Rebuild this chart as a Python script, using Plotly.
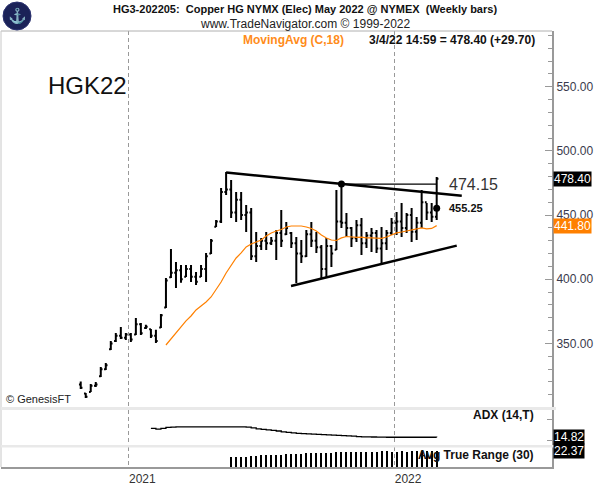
import datetime as dt
import plotly.graph_objects as go

# ---------------- data ----------------
first_week = dt.date(2020, 10, 23)
week_dates = [first_week + dt.timedelta(weeks=k) for k in range(72)]

opens = [318, 311, 312.2, 317, 324.5, 330, 345.5, 352, 356, 354.5,
         357, 357, 365, 362, 361, 356, 362.5, 378, 401.5, 405,
         407, 402, 408, 402, 402, 408, 420, 441, 445, 468,
         470, 452, 462, 450, 452, 418, 426, 430, 428, 430,
         436, 435, 436, 428, 420, 418, 435, 430, 425, 408,
         426, 423, 445, 444, 440, 432, 442, 428, 434, 436,
         424, 428, 436, 444, 445, 440, 450, 437, 444, 460,
         452, 448.7]
highs = [320.3, 311.4, 318.5, 320.0, 331.7, 334.8, 351.9, 358.2, 362.9, 358.2,
         358.2, 369.8, 366.0, 364.5, 361.3, 360.6, 373.0, 401.0, 423.6, 413.4,
         411.1, 411.1, 411.1, 405.7, 411.1, 420.4, 431.3, 446.2, 471.1, 483.6,
         477.3, 468.0, 468.0, 457.9, 455.5, 436.8, 432.2, 436.8, 432.9, 438.4,
         454.0, 444.6, 436.8, 432.9, 430.6, 438.4, 444.6, 436.8, 426.7, 432.2,
         426.7, 469.5, 475.0, 451.6, 440.7, 446.2, 447.7, 436.8, 440.0, 438.4,
         440.7, 438.4, 447.7, 452.4, 459.4, 451.6, 455.5, 448.5, 469.5, 459.4,
         459.4, 479.7]
lows = [314.6, 307.6, 312.2, 316.1, 323.9, 329.3, 344.9, 351.2, 353.5, 352.7,
        351.2, 356.6, 356.6, 361.3, 354.3, 350.4, 362.1, 377.6, 401.0, 393.2,
        397.2, 401.8, 397.9, 395.6, 401.8, 397.9, 419.6, 440.7, 443.8, 465.7,
        447.7, 444.6, 446.2, 436.8, 415.0, 413.5, 422.8, 422.8, 426.7, 415.0,
        425.2, 434.5, 424.4, 397.1, 412.7, 417.4, 425.2, 420.5, 401.0, 401.8,
        409.6, 422.8, 440.0, 432.9, 425.2, 429.0, 418.9, 424.4, 421.3, 420.5,
        412.7, 422.8, 434.5, 434.5, 432.9, 436.1, 429.0, 430.6, 440.0, 446.2,
        444.6, 446.2]
closes = [315.5, 308.5, 317, 318, 330, 333, 350, 356, 354.5, 357,
          353, 365, 358, 363, 356, 352, 372, 399, 405, 407,
          400, 408, 402, 398, 408, 418, 430, 445, 468, 470,
          452, 462, 450, 452, 418, 426, 430, 428, 430, 436,
          430, 440, 428, 420, 418, 435, 430, 425, 408, 426,
          420, 445, 444, 440, 432, 442, 428, 434, 436, 424,
          428, 436, 444, 445, 440, 450, 437, 444, 460, 452,
          448.7, 478.4]

# 18-week moving average of the close, as drawn (starts at week 17)
ma_start = 17
ma_values = [348.8, 353.5, 358.2, 362.9, 367.6, 371.4, 376.1, 379.2, 382.3, 386.2,
             391.7, 397.9, 404.9, 411.1, 416.6, 420.5, 425.2, 427.5, 429.0, 430.6,
             433.7, 436.1, 437.6, 438.8, 440.7, 441.5, 441.5, 441.5, 440.7, 439.6,
             437.6, 434.5, 432.2, 430.6, 430.2, 432.2, 433.3, 432.9, 432.6, 432.9,
             432.2, 432.2, 431.8, 431.8, 432.9, 434.5, 436.1, 436.8, 437.6, 438.4,
             439.2, 440.0, 439.2, 439.6, 441.8]

# ADX (14,T) from week 14
adx_start = 14
adx_values = [23.4, 22.7, 23.4, 24.2, 24.6, 24.7, 24.7, 24.7, 24.7, 24.7,
              24.7, 24.7, 24.7, 24.7, 24.7, 24.7, 24.7, 24.7, 24.7, 24.6,
              23.8, 22.8, 22.3, 21.9, 21.4, 20.8, 20.0, 19.6, 19.1, 18.6,
              18.3, 18.0, 17.9, 17.7, 17.4, 17.1, 16.9, 16.6, 16.4, 16.2,
              15.9, 15.5, 15.3, 15.2, 15.1, 15.0, 14.9, 14.85, 14.85, 14.85,
              14.85, 14.85, 14.85, 14.85, 14.85, 14.85, 14.85, 14.82]

# Avg True Range (30) from week 30
atr_start = 30
atr_values = [18.2, 18.3, 18.5, 18.6, 19.0, 19.3, 19.4, 19.6, 19.7, 19.8,
              20.0, 20.1, 20.2, 20.5, 20.6, 20.7, 20.9, 20.9, 21.1, 21.2,
              21.2, 21.5, 21.7, 21.7, 21.7, 21.8, 21.9, 21.9, 21.9, 21.9,
              22.0, 22.0, 21.9, 21.9, 22.0, 21.9, 22.0, 22.0, 22.2, 22.2,
              22.1, 22.37]

# drawn trendlines / marks (week index, price)
upper_line_x = [29, 76]
upper_line_y = [483.2, 465.0]
lower_line_x = [41.95, 75.0]
lower_line_y = [394.8, 426.2]
level_x = [52, 71]
level_price = 474.15
dot_x = [52, 71]
dot_y = [474.15, 455.25]
label_x = 73.06

last_close = 478.40
last_ma = 441.80
last_adx = 14.82
last_atr = 22.37

# ---------------- helpers ----------------
idx = list(range(len(week_dates)))
year_ticks, year_text = [], []
for k in range(1, len(week_dates)):
    if week_dates[k].year != week_dates[k - 1].year:
        year_ticks.append(k - 0.5)
        year_text.append(str(week_dates[k].year))

FONT = "Liberation Sans, Arial, sans-serif"
ORANGE = "#FF8000"
PL, PR, PT, PB = 1, 552, 31, 467


def px(x):
    return (x - PL) / (PR - PL)


def py(y):
    return (PB - y) / (PB - PT)


fig = go.Figure()

fig.add_trace(go.Ohlc(
    x=idx, open=opens, high=highs, low=lows, close=closes,
    increasing=dict(line=dict(color="black", width=2)),
    decreasing=dict(line=dict(color="black", width=2)),
    tickwidth=0.35, xaxis="x", yaxis="y", showlegend=False, hoverinfo="skip"))

fig.add_trace(go.Scatter(
    x=idx[ma_start:ma_start + len(ma_values)], y=ma_values, mode="lines",
    line=dict(color=ORANGE, width=1.2), xaxis="x", yaxis="y",
    showlegend=False, hoverinfo="skip"))

fig.add_trace(go.Scatter(x=upper_line_x, y=upper_line_y, mode="lines",
                         line=dict(color="black", width=2.5), xaxis="x", yaxis="y",
                         showlegend=False, hoverinfo="skip"))
fig.add_trace(go.Scatter(x=lower_line_x, y=lower_line_y, mode="lines",
                         line=dict(color="black", width=2.5), xaxis="x", yaxis="y",
                         showlegend=False, hoverinfo="skip"))
fig.add_trace(go.Scatter(x=level_x, y=[level_price, level_price], mode="lines",
                         line=dict(color="black", width=1.3), xaxis="x", yaxis="y",
                         showlegend=False, hoverinfo="skip"))
fig.add_trace(go.Scatter(x=dot_x, y=dot_y, mode="markers",
                         marker=dict(color="black", size=7), xaxis="x", yaxis="y",
                         showlegend=False, hoverinfo="skip"))

fig.add_trace(go.Scatter(
    x=idx[adx_start:adx_start + len(adx_values)], y=adx_values, mode="lines",
    line=dict(color="black", width=1.3, shape="hv"), xaxis="x2", yaxis="y2",
    showlegend=False, hoverinfo="skip"))

fig.add_trace(go.Bar(
    x=idx[atr_start:atr_start + len(atr_values)], y=atr_values, width=0.2,
    marker=dict(color="black", line=dict(width=0)), xaxis="x3", yaxis="y3",
    showlegend=False, hoverinfo="skip"))

xcommon = dict(range=[-15.9, 94.0], tickvals=year_ticks, ticktext=year_text,
               showgrid=True, griddash="4px,3px", gridcolor="#999999", gridwidth=1,
               zeroline=False, ticks="", fixedrange=True)

fig.update_layout(
    width=607, height=488, autosize=False,
    margin=dict(l=PL, r=607 - PR, t=PT, b=488 - PB),
    paper_bgcolor="white", plot_bgcolor="white",
    font=dict(family=FONT, color="#222"),
    showlegend=False, bargap=0,
    xaxis=dict(**xcommon, anchor="y", showticklabels=False, rangeslider=dict(visible=False)),
    xaxis2=dict(**xcommon, anchor="y2", matches="x", showticklabels=False),
    xaxis3=dict(**xcommon, anchor="y3", matches="x", showticklabels=True,
                tickfont=dict(size=12, color="#333", family=FONT), ticklabelshift=14,
                showline=True, linecolor="#999999", linewidth=2),
    yaxis=dict(domain=[py(407), 1], range=[300.5, 593.4], side="right", anchor="x",
               showline=True, linecolor="#999999", linewidth=2,
               ticks="inside", ticklen=7, tickcolor="#999999", tickwidth=1,
               tick0=0, dtick=50, tickformat=".2f",
               tickfont=dict(size=12, color="#3a3a4c", family=FONT),
               minor=dict(dtick=10, ticks="inside", ticklen=4, tickcolor="#999999"),
               showgrid=False, zeroline=False, fixedrange=True),
    yaxis2=dict(domain=[py(445), py(410)], range=[7.49, 40.82], side="right", anchor="x2",
                showline=True, linecolor="#999999", linewidth=2,
                ticks="inside", ticklen=5, tickcolor="#999999", tickvals=[12, 32],
                showticklabels=False, showgrid=False, zeroline=False, fixedrange=True),
    yaxis3=dict(domain=[0, py(447)], range=[12, 24.85], side="right", anchor="x3",
                showline=True, linecolor="#999999", linewidth=2, ticks="",
                showticklabels=False, showgrid=False, zeroline=False, fixedrange=True),
)

shapes = [
    # frame top and left
    dict(type="line", xref="paper", yref="paper", x0=0, x1=1, y0=1, y1=1,
         line=dict(color="#b0b0b0", width=1)),
    dict(type="line", xref="paper", yref="paper", x0=0, x1=0, y0=0, y1=1,
         line=dict(color="#c8c8c8", width=1)),
    # panel separators
    dict(type="rect", xref="paper", yref="paper", x0=0, x1=px(556), y0=py(410), y1=py(407),
         fillcolor="#e9e9e9", line=dict(width=0), layer="above"),
    dict(type="rect", xref="paper", yref="paper", x0=0, x1=px(556), y0=py(447.5), y1=py(445),
         fillcolor="#e9e9e9", line=dict(width=0), layer="above"),
    # logo
    dict(type="circle", xref="paper", yref="paper", x0=px(3), x1=px(31), y0=py(30), y1=py(2),
         fillcolor="#1b2258", line=dict(color="#2b3270", width=1)),
]
fig.update_layout(shapes=shapes)

ann = []


def add(text, x, y, xanchor="center", size=12, color="#222", bold=False, xref="paper",
        yref="paper", bg=None, pad=1):
    t = f"<b>{text}</b>" if bold else text
    d = dict(text=t, x=x, y=y, xref=xref, yref=yref, xanchor=xanchor, yanchor="middle",
             showarrow=False, font=dict(size=size, color=color, family=FONT), borderpad=pad)
    if bg:
        d["bgcolor"] = bg
    ann.append(d)


add("⚓", px(17), py(16), size=15, color="#d9b23c")
add("HG3-202205:  Copper HG NYMX (Elec) May 2022 @ NYMEX  (Weekly bars)", px(304.5), py(9),
    size=11, color="#111", bold=True)
add("www.TradeNavigator.com © 1999-2022", px(305), py(24), size=12, color="#222")
add("MovingAvg (C,18)", px(345.5), py(40), xanchor="right", size=12, color="#FF8C1A", bold=True)
add("3/4/22 14:59 = 478.40 (+29.70)", px(537), py(40), xanchor="right", size=12,
    color="#111", bold=True)
add("HGK22", px(46), py(85), xanchor="left", size=24, color="#111")
add("© GenesisFT", px(4), py(399), xanchor="left", size=11, color="#222")
add(f"{level_price:.2f}", label_x, level_price, xanchor="left", size=16, color="#333",
    xref="x", yref="y")
add(f"{dot_y[1]:.2f}", label_x, dot_y[1], xanchor="left", size=11, color="#111", bold=True,
    xref="x", yref="y")
add("ADX (14,T)", px(536), py(415), xanchor="right", size=12, color="#111", bold=True)
add("Avg True Range (30)", px(536), py(454.5), xanchor="right", size=12, color="#111", bold=True)
add(f"{last_close:.2f}", px(552.5), last_close, xanchor="left", size=12, color="white",
    yref="y", bg="black", pad=0)
add(f"{last_ma:.2f}", px(552.5), last_ma, xanchor="left", size=12, color="white",
    yref="y", bg="#FF8000", pad=0)
add(f"{last_adx:.2f}", px(552.5), last_adx, xanchor="left", size=12, color="white",
    yref="y2", bg="black", pad=0)
add(f"{last_atr:.2f}", px(552.5), last_atr, xanchor="left", size=12, color="white",
    yref="y3", bg="black", pad=0)

fig.update_layout(annotations=ann)

fig.write_html("out.html", config={"displayModeBar": False},
               post_script="document.body.style.margin='0';document.body.style.overflow='hidden';")
